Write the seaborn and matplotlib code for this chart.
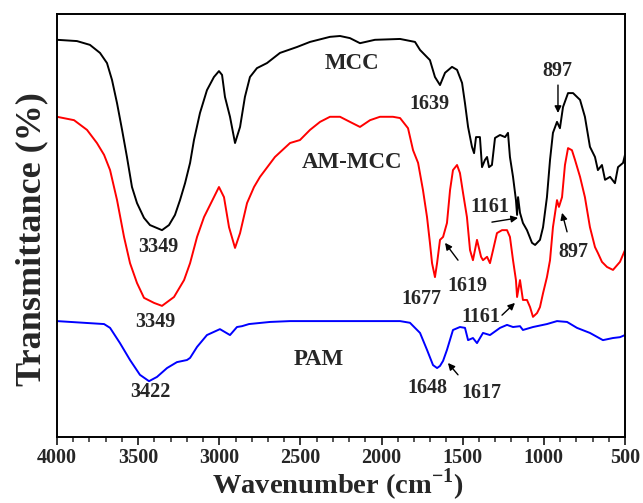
import matplotlib
matplotlib.use("Agg")
import matplotlib.pyplot as plt
import numpy as np
import pandas as pd
import seaborn as sns

# MCC spectrum (wavenumber, transmittance)
mcc_wn = [4000, 3877, 3797, 3735, 3692, 3661, 3630, 3599, 3569, 3538,
          3507, 3464, 3427, 3353, 3310, 3273, 3242, 3211, 3180, 3156,
          3119, 3076, 3033, 3002, 2983, 2965, 2934, 2903, 2872, 2842,
          2811, 2768, 2706, 2626, 2521, 2441, 2318, 2256, 2195, 2133,
          2041, 1886, 1794, 1763, 1702, 1671, 1640, 1609, 1566, 1535,
          1504, 1486, 1467, 1443, 1430, 1418, 1394, 1381, 1363, 1350,
          1338, 1320, 1301, 1270, 1239, 1221, 1209, 1190, 1172, 1165,
          1159, 1147, 1129, 1104, 1073, 1054, 1024, 1005, 981, 962,
          944, 919, 901, 882, 851, 820, 777, 747, 716, 685,
          667, 642, 623, 592, 562, 543, 512, 500]
mcc_t = [93.9, 93.6, 92.7, 90.8, 88.4, 84.4, 78.9, 72.6, 66.2, 59.1,
         55.3, 51.8, 50.1, 48.9, 50.1, 52.5, 56.0, 60.0, 64.8, 70.2,
         76.6, 82.0, 85.1, 86.5, 85.6, 80.4, 75.7, 69.5, 73.3, 80.4,
         85.1, 87.2, 88.4, 90.8, 92.2, 93.4, 94.6, 94.8, 94.3, 93.1,
         93.9, 94.1, 93.4, 91.5, 89.1, 85.1, 83.2, 86.1, 87.5, 86.8,
         83.7, 78.9, 73.3, 68.6, 67.1, 70.9, 70.9, 63.8, 65.5, 66.2,
         63.8, 64.3, 70.7, 71.4, 70.9, 71.9, 66.2, 61.5, 56.0, 52.5,
         56.7, 53.0, 50.6, 48.9, 45.9, 45.4, 46.6, 49.6, 56.7, 65.5,
         71.9, 74.5, 73.0, 78.0, 81.3, 81.3, 79.7, 75.7, 68.6, 66.2,
         63.1, 64.3, 60.8, 61.5, 60.0, 63.8, 64.8, 66.7]

# AM-MCC spectrum
ammcc_wn = [4000, 3895, 3815, 3754, 3710, 3673, 3630, 3587, 3550, 3507,
            3464, 3402, 3353, 3279, 3217, 3180, 3137, 3094, 3033, 3002,
            2971, 2940, 2903, 2872, 2829, 2786, 2749, 2657, 2564, 2503,
            2441, 2379, 2318, 2256, 2195, 2133, 2071, 2010, 1930, 1886,
            1837, 1806, 1775, 1745, 1720, 1702, 1689, 1671, 1658, 1640,
            1621, 1597, 1578, 1560, 1535, 1517, 1498, 1474, 1455, 1437,
            1412, 1387, 1375, 1350, 1332, 1313, 1289, 1258, 1227, 1209,
            1190, 1172, 1165, 1147, 1129, 1104, 1085, 1067, 1042, 1024,
            1005, 981, 962, 944, 919, 907, 888, 870, 851, 827,
            808, 777, 747, 716, 685, 667, 642, 611, 574, 531, 500]
ammcc_t = [75.7, 74.9, 72.6, 69.5, 66.7, 63.1, 56.0, 47.3, 41.1, 36.4,
           32.9, 31.7, 31.0, 33.1, 37.1, 41.1, 47.3, 52.0, 56.7, 59.1,
           56.7, 49.6, 44.7, 48.2, 55.3, 59.1, 61.5, 66.2, 69.5, 70.2,
           72.6, 74.5, 75.7, 75.7, 74.5, 73.3, 74.9, 75.7, 75.7, 75.4,
           73.0, 67.8, 64.8, 58.4, 52.0, 45.9, 41.1, 37.8, 41.1, 46.6,
           47.3, 50.6, 58.4, 63.1, 64.3, 62.4, 57.7, 52.0, 44.2, 41.8,
           46.6, 42.6, 41.8, 42.6, 41.1, 44.2, 48.2, 48.9, 48.9, 47.3,
           41.8, 37.1, 33.1, 37.1, 32.4, 32.4, 30.7, 28.4, 29.3, 30.7,
           34.0, 37.8, 41.8, 49.6, 56.0, 54.4, 56.7, 64.3, 68.3, 67.8,
           65.5, 61.5, 56.7, 49.6, 44.9, 43.5, 41.4, 40.2, 39.5, 41.4, 44.2]

# PAM spectrum
pam_wn = [4000, 3710, 3673, 3612, 3550, 3489, 3433, 3384, 3322, 3261,
          3199, 3180, 3137, 3076, 2996, 2965, 2934, 2891, 2860, 2817,
          2687, 2564, 1886, 1825, 1763, 1720, 1683, 1658, 1640, 1621,
          1597, 1560, 1517, 1486, 1467, 1437, 1412, 1375, 1332, 1270,
          1227, 1190, 1147, 1129, 1067, 981, 919, 857, 796, 716,
          636, 574, 531, 500]
pam_t = [27.4, 26.7, 25.8, 22.2, 18.2, 14.7, 13.2, 14.2, 16.3, 17.7,
         18.2, 18.7, 21.3, 24.1, 25.5, 24.8, 24.1, 26.0, 26.2, 26.7,
         27.2, 27.4, 27.4, 27.0, 24.6, 20.6, 17.0, 16.3, 16.8, 18.0,
         20.6, 25.3, 26.0, 25.8, 22.9, 23.4, 22.2, 24.6, 24.1, 25.8,
         26.5, 26.0, 26.2, 25.3, 26.0, 26.7, 27.4, 27.2, 25.8, 24.6,
         22.9, 23.4, 23.6, 24.1]

samples = ["MCC", "AM-MCC", "PAM"]
colors = ["black", "red", "blue"]

# sample names (wavenumber, transmittance)
name_pos = {"MCC": (2182, 88.2), "AM-MCC": (2179, 65.0), "PAM": (2386, 18.4)}

# peak labels: text, text position, arrow (start, end) or None
peak_labels = [
    ("3349", (3378, 44.9), None),
    ("1639", (1708, 78.7), None),
    ("897", (919, 86.5), ((913, 83.2), (913, 76.6))),
    ("1161", (1332, 54.4), ((1320, 50.8), (1159, 51.8))),
    ("3349", (3396, 27.2), None),
    ("1677", (1757, 32.6), None),
    ("1619", (1474, 35.7), ((1529, 41.8), (1609, 45.9))),
    ("1161", (1387, 28.4), ((1258, 28.8), (1178, 31.7))),
    ("897", (820, 43.7), ((857, 48.5), (888, 53.0))),
    ("3422", (3427, 10.6), None),
    ("1648", (1720, 11.6), None),
    ("1617", (1387, 10.4), ((1529, 14.7), (1591, 17.5))),
]

df = pd.concat([
    pd.DataFrame({"wn": mcc_wn, "t": mcc_t, "sample": "MCC"}),
    pd.DataFrame({"wn": ammcc_wn, "t": ammcc_t, "sample": "AM-MCC"}),
    pd.DataFrame({"wn": pam_wn, "t": pam_t, "sample": "PAM"}),
])

sns.set_style("ticks")
plt.rcParams["font.family"] = ["Liberation Serif", "DejaVu Serif"]
plt.rcParams["font.weight"] = "bold"
plt.rcParams["mathtext.fontset"] = "custom"
plt.rcParams["mathtext.rm"] = "Liberation Serif:bold"
plt.rcParams["mathtext.bf"] = "Liberation Serif:bold"

fig = plt.figure(figsize=(6.43, 5.03), dpi=100)
ax = fig.add_axes([57 / 643, 1 - 437 / 503, 568 / 643, 423 / 503])

sns.lineplot(data=df, x="wn", y="t", hue="sample", hue_order=samples,
             palette=dict(zip(samples, colors)), estimator=None, sort=False,
             linewidth=1.4, legend=False, ax=ax)

ax.set_xlim(4000, 500)
ax.set_ylim(0, 100)
ax.set_xticks(np.arange(4000, 499, -500))
ax.set_xticks(np.arange(4000, 499, -100), minor=True)
ax.set_yticks([])
ax.tick_params(axis="x", which="major", direction="out", length=6, width=1.3,
               labelsize=14.5, pad=2)
ax.tick_params(axis="x", which="minor", direction="out", length=3.5, width=1.1)
for lab in ax.get_xticklabels():
    lab.set_fontweight("bold")
for sp in ax.spines.values():
    sp.set_linewidth(1.4)
    sp.set_color("black")

ax.set_xlabel("Wavenumber (cm$^{-1}$)", fontsize=20.5, fontweight="bold")
ax.xaxis.label.set_va("baseline")
ax.xaxis.set_label_coords(0.495, (437 - 494) / 423)
ax.set_ylabel("Transmittance (%)", fontsize=26, fontweight="bold")
ax.yaxis.set_label_coords(-0.016, 0.468)

for name, (x, y) in name_pos.items():
    ax.text(x, y, name, fontsize=16.5, fontweight="bold", ha="center", va="center")

for text, (x, y), arrow in peak_labels:
    ax.text(x, y, text, fontsize=14.5, fontweight="bold", ha="center", va="center")
    if arrow is not None:
        ax.annotate("", xy=arrow[1], xytext=arrow[0],
                    arrowprops=dict(arrowstyle="-|>", color="black", lw=1.0,
                                    mutation_scale=10, shrinkA=0, shrinkB=0))

fig.savefig("out.png", dpi=100)
